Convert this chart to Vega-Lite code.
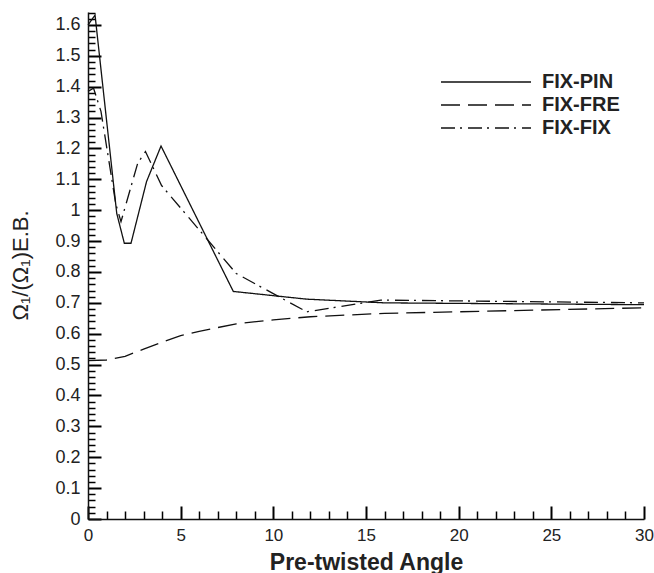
{
  "$schema": "https://vega.github.io/schema/vega-lite/v6.json",
  "width": 556,
  "height": 507,
  "autosize": {"type": "none"},
  "padding": {"left": 88, "top": 12, "right": 10, "bottom": 54},
  "background": "white",
  "config": {
    "view": {"stroke": null},
    "font": "Liberation Sans",
    "axis": {"labelColor": "#222", "titleColor": "#222", "domainColor": "#111", "gridColor": "#000", "gridOpacity": 1, "labelFlush": false, "labelOverlap": false, "ticks": false}
  },
  "data": {
    "values": [
      {"series": "FIX-PIN", "angle": 0, "ratio": 1.60},
      {"series": "FIX-PIN", "angle": 0.38, "ratio": 1.632},
      {"series": "FIX-PIN", "angle": 1.55, "ratio": 0.99},
      {"series": "FIX-PIN", "angle": 1.96, "ratio": 0.893},
      {"series": "FIX-PIN", "angle": 2.32, "ratio": 0.893},
      {"series": "FIX-PIN", "angle": 3.16, "ratio": 1.093},
      {"series": "FIX-PIN", "angle": 3.94, "ratio": 1.208},
      {"series": "FIX-PIN", "angle": 7.84, "ratio": 0.737},
      {"series": "FIX-PIN", "angle": 11.8, "ratio": 0.712},
      {"series": "FIX-PIN", "angle": 16, "ratio": 0.700},
      {"series": "FIX-PIN", "angle": 30, "ratio": 0.694},
      {"series": "FIX-FRE", "angle": 0, "ratio": 0.513},
      {"series": "FIX-FRE", "angle": 1, "ratio": 0.515},
      {"series": "FIX-FRE", "angle": 2, "ratio": 0.527},
      {"series": "FIX-FRE", "angle": 3, "ratio": 0.55},
      {"series": "FIX-FRE", "angle": 4, "ratio": 0.573},
      {"series": "FIX-FRE", "angle": 5, "ratio": 0.594},
      {"series": "FIX-FRE", "angle": 6, "ratio": 0.608},
      {"series": "FIX-FRE", "angle": 8, "ratio": 0.632},
      {"series": "FIX-FRE", "angle": 10, "ratio": 0.645},
      {"series": "FIX-FRE", "angle": 12, "ratio": 0.655},
      {"series": "FIX-FRE", "angle": 16, "ratio": 0.666},
      {"series": "FIX-FRE", "angle": 30, "ratio": 0.684},
      {"series": "FIX-FIX", "angle": 0, "ratio": 1.385},
      {"series": "FIX-FIX", "angle": 0.3, "ratio": 1.395},
      {"series": "FIX-FIX", "angle": 0.7, "ratio": 1.32},
      {"series": "FIX-FIX", "angle": 1.5, "ratio": 1.02},
      {"series": "FIX-FIX", "angle": 1.78, "ratio": 0.963},
      {"series": "FIX-FIX", "angle": 2.68, "ratio": 1.152},
      {"series": "FIX-FIX", "angle": 3.1, "ratio": 1.19},
      {"series": "FIX-FIX", "angle": 3.97, "ratio": 1.08},
      {"series": "FIX-FIX", "angle": 8.0, "ratio": 0.795},
      {"series": "FIX-FIX", "angle": 11.8, "ratio": 0.671},
      {"series": "FIX-FIX", "angle": 15.8, "ratio": 0.709},
      {"series": "FIX-FIX", "angle": 30, "ratio": 0.70}
    ]
  },
  "mark": {"type": "line", "color": "#111", "strokeWidth": 1.3},
  "encoding": {
    "x": {
      "field": "angle", "type": "quantitative",
      "scale": {"domain": [0, 30], "nice": false, "zero": false},
      "axis": {
        "orient": "bottom",
        "values": [0, 1, 2, 3, 4, 5, 6, 7, 8, 9, 10, 11, 12, 13, 14, 15, 16, 17, 18, 19, 20, 21, 22, 23, 24, 25, 26, 27, 28, 29, 30],
        "labelExpr": "datum.value % 5 == 0 ? datum.label : ''",
        "grid": true,
        "gridDash": {"condition": {"test": "datum.value % 5 == 0", "value": [0, 494, 13, 3000]}, "value": [0, 499, 8, 3000]},
        "gridWidth": {"condition": {"test": "datum.value % 5 == 0", "value": 2}, "value": 1.5},
        "domainWidth": 1.5, "labelFontSize": 17, "labelPadding": 8,
        "title": "Pre-twisted Angle", "titleFontSize": 23, "titleFontWeight": "bold",
        "titleY": 50, "titleBaseline": "alphabetic"
      }
    },
    "y": {
      "field": "ratio", "type": "quantitative",
      "scale": {"domain": [0, 1.642], "nice": false, "zero": false},
      "axis": {
        "orient": "left",
        "values": [0, 0.02, 0.04, 0.06, 0.08, 0.1, 0.12, 0.14, 0.16, 0.18, 0.2, 0.22, 0.24, 0.26, 0.28, 0.3, 0.32, 0.34, 0.36, 0.38, 0.4, 0.42, 0.44, 0.46, 0.48, 0.5, 0.52, 0.54, 0.56, 0.58, 0.6, 0.62, 0.64, 0.66, 0.68, 0.7, 0.72, 0.74, 0.76, 0.78, 0.8, 0.82, 0.84, 0.86, 0.88, 0.9, 0.92, 0.94, 0.96, 0.98, 1, 1.02, 1.04, 1.06, 1.08, 1.1, 1.12, 1.14, 1.16, 1.18, 1.2, 1.22, 1.24, 1.26, 1.28, 1.3, 1.32, 1.34, 1.36, 1.38, 1.4, 1.42, 1.44, 1.46, 1.48, 1.5, 1.52, 1.54, 1.56, 1.58, 1.6, 1.62, 1.64],
        "labelExpr": "abs(datum.value * 10 - round(datum.value * 10)) < 0.001 ? format(datum.value, '~f') : ''",
        "grid": true,
        "gridDash": {"condition": {"test": "abs(datum.value * 10 - round(datum.value * 10)) < 0.001", "value": [13, 3000]}, "value": [7, 3000]},
        "gridWidth": {"condition": {"test": "abs(datum.value * 10 - round(datum.value * 10)) < 0.001", "value": 2}, "value": 1.5},
        "domainWidth": 1.5, "labelFontSize": 18, "labelPadding": 8,
        "title": "Ω₁/(Ω₁)E.B.", "titleFontSize": 22, "titleFontWeight": "normal",
        "titleX": -61, "titleY": 253, "titleBaseline": "alphabetic", "titleAngle": 270
      }
    },
    "strokeDash": {
      "field": "series", "type": "nominal",
      "scale": {"domain": ["FIX-PIN", "FIX-FRE", "FIX-FIX"], "range": [[1, 0], [19, 8], [14, 5, 2, 6]]},
      "legend": {
        "orient": "none", "legendX": 388, "legendY": 60, "title": null,
        "symbolType": "M-9,0H9", "symbolSize": 100, "symbolStrokeWidth": 1.3,
        "symbolStrokeColor": "#111", "symbolFillColor": "transparent",
        "labelFontSize": 20, "labelFontWeight": "bold",
        "labelColor": "#222", "labelOffset": 46, "rowPadding": 3
      }
    }
  }
}
